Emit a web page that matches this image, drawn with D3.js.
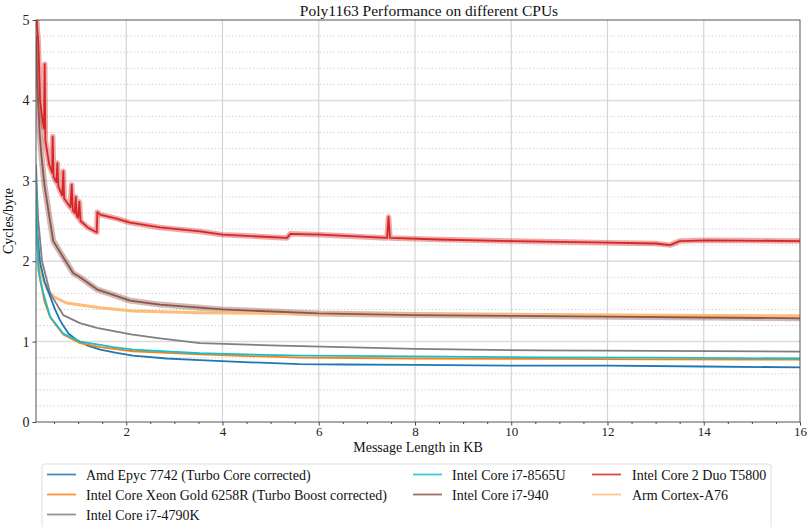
<!DOCTYPE html>
<html>
<head>
<meta charset="utf-8">
<script src="https://cdn.jsdelivr.net/npm/d3@7"></script>
<style>
  body { margin: 0; background: #fff; }
  svg text { font-family: "Liberation Serif", "Times New Roman", Times, "DejaVu Serif", serif !important; }
</style>
</head>
<body>
<script>
// values: [message length in KB, cycles/byte]
const amd = [[0.125, 2.6], [0.16, 2.3], [0.21, 1.98], [0.3, 1.75], [0.42, 1.56], [0.52, 1.4], [0.62, 1.27],
  [0.69, 1.2], [0.8, 1.1], [0.97, 1.02], [1.2, 0.95], [1.46, 0.9], [1.8, 0.86], [2.14, 0.825], [2.84, 0.79],
  [3.53, 0.77], [4.22, 0.75], [5.6, 0.72], [6.5, 0.715], [8, 0.71], [10, 0.7], [12, 0.7], [14, 0.69], [16, 0.68]];
const xeon = [[0.125, 2.7], [0.15, 2.2], [0.2, 1.8], [0.3, 1.5], [0.42, 1.3], [0.69, 1.09], [1.04, 0.98],
  [1.46, 0.93], [2.14, 0.88], [2.84, 0.86], [3.53, 0.84], [5.6, 0.8], [8, 0.79], [10.6, 0.785], [13, 0.78], [16, 0.775]];
const i4790 = [[0.125, 3.2], [0.15, 2.8], [0.17, 2.52], [0.25, 2.0], [0.42, 1.6], [0.69, 1.33], [1.04, 1.23],
  [1.39, 1.17], [2.1, 1.09], [2.7, 1.04], [3.53, 0.98], [5.2, 0.95], [8, 0.91], [10.6, 0.89], [13, 0.885], [16, 0.875]];
const i8565 = [[0.125, 3.05], [0.14, 2.5], [0.173, 1.89], [0.277, 1.6], [0.42, 1.31], [0.69, 1.1], [1.04, 1.0],
  [1.46, 0.96], [1.73, 0.93], [2.14, 0.9], [3.53, 0.855], [5.6, 0.825], [8, 0.815], [10.6, 0.805], [13, 0.8], [16, 0.79]];
const i940 = [[0.125, 4.8], [0.15, 4.2], [0.2, 3.6], [0.24, 3.3], [0.3, 2.95], [0.416, 2.5], [0.485, 2.25],
  [0.69, 2.05], [0.9, 1.85], [1.04, 1.8], [1.39, 1.65], [2.08, 1.51], [2.7, 1.46], [4.0, 1.4], [6, 1.35],
  [8, 1.33], [10, 1.32], [12, 1.31], [14, 1.3], [16, 1.29]];
const t5800 = [[0.125, 5.2], [0.15, 4.9], [0.17, 4.75], [0.19, 4.4], [0.21, 4.0], [0.26, 3.75], [0.29, 3.65],
  [0.306, 4.45], [0.32, 3.5], [0.4, 3.2], [0.46, 3.1], [0.472, 3.55], [0.49, 3.05], [0.55, 2.98], [0.568, 3.22],
  [0.59, 2.93], [0.67, 2.82], [0.693, 3.12], [0.71, 2.78], [0.84, 2.67], [0.867, 2.95], [0.89, 2.63],
  [0.93, 2.6], [0.95, 2.8], [0.97, 2.57], [1.0, 2.54], [1.025, 2.74], [1.05, 2.5], [1.2, 2.42], [1.35, 2.37],
  [1.387, 2.36], [1.4, 2.61], [1.455, 2.58], [1.8, 2.53], [2.08, 2.48], [2.7, 2.42], [3.53, 2.37], [4.0, 2.33],
  [5.34, 2.29], [5.41, 2.34], [6.03, 2.33], [7.42, 2.29], [7.45, 2.55], [7.48, 2.29], [8.5, 2.27], [10.04, 2.25],
  [12, 2.23], [13.0, 2.22], [13.3, 2.2], [13.5, 2.25], [14.07, 2.26], [16, 2.25]];
const a76 = [[0.125, 2.85], [0.14, 2.5], [0.155, 2.27], [0.2, 1.95], [0.277, 1.77], [0.36, 1.65], [0.485, 1.56],
  [0.76, 1.48], [1.455, 1.42], [2.14, 1.38], [3.53, 1.36], [5.6, 1.345], [8, 1.335], [12, 1.33], [16, 1.32]];

const seriesNames = ["Amd Epyc 7742 (Turbo Core corrected)", "Intel Core Xeon Gold 6258R (Turbo Boost corrected)",
  "Intel Core i7-4790K", "Intel Core i7-8565U", "Intel Core i7-940", "Intel Core 2 Duo T5800", "Arm Cortex-A76"];
const seriesData = [amd, xeon, i4790, i8565, i940, t5800, a76];
const colors = ["#1f77b4", "#ff7f0e", "#7f7f7f", "#17becf", "#8c564b", "#d62728", "#ffbb78"];
const xTicks = [2, 4, 6, 8, 10, 12, 14, 16];
const yTicks = [0, 1, 2, 3, 4, 5];

const W = 810, H = 527;
const margin = {top: 20, right: 10, bottom: 105, left: 36},
    width = W - margin.left - margin.right,
    height = H - margin.top - margin.bottom;

const svg = d3.select("body").append("svg")
    .attr("width", W).attr("height", H);

svg.append("defs").append("clipPath").attr("id", "clip")
    .append("rect").attr("width", width).attr("height", height);

const g = svg.append("g")
    .attr("transform", "translate(" + margin.left + "," + margin.top + ")");

const x = d3.scaleLinear().domain([0.125, 16]).range([0, width]);
const y = d3.scaleLinear().domain([0, 5]).range([height, 0]);

// minor horizontal grid (dotted)
g.append("g").selectAll("line")
    .data(d3.range(0, 5.01, 0.2).filter(v => Math.abs(v - Math.round(v)) > 0.01))
    .enter().append("line")
    .attr("x1", 0).attr("x2", width)
    .attr("y1", d => y(d)).attr("y2", d => y(d))
    .attr("stroke", "#c8c8c8").attr("stroke-width", 0.8)
    .attr("stroke-dasharray", "1.5,2");

// major grid
g.append("g").selectAll("line").data(yTicks.slice(1, -1)).enter().append("line")
    .attr("x1", 0).attr("x2", width)
    .attr("y1", d => y(d)).attr("y2", d => y(d))
    .attr("stroke", "#dcdcdc").attr("stroke-width", 1.5);
g.append("g").selectAll("line").data(xTicks.slice(0, -1)).enter().append("line")
    .attr("y1", 0).attr("y2", height)
    .attr("x1", d => x(d)).attr("x2", d => x(d))
    .attr("stroke", "#d4d4d4").attr("stroke-width", 1.2);

const line = d3.line().x(d => x(d[0])).y(d => y(d[1]));

const plot = g.append("g").attr("clip-path", "url(#clip)");

// noisy series get a translucent band under the line
[[4, 6], [5, 5.5]].forEach(([i, w]) => {
  plot.append("path").datum(seriesData[i])
      .attr("d", line).attr("fill", "none")
      .attr("stroke", colors[i]).attr("stroke-opacity", 0.4)
      .attr("stroke-width", w).attr("stroke-linejoin", "round");
});

const order = [6, 4, 2, 0, 1, 3, 5];
order.forEach(i => {
  plot.append("path").datum(seriesData[i])
      .attr("d", line).attr("fill", "none")
      .attr("stroke", colors[i])
      .attr("stroke-width", i === 6 ? 3 : 1.8)
      .attr("stroke-linejoin", "round");
});

// axes
g.append("g").attr("class", "xaxis").attr("transform", "translate(0," + height + ")")
    .call(d3.axisBottom(x).tickValues(xTicks).tickSize(3.5).tickPadding(1.5).tickFormat(d3.format("d")));
g.append("g").attr("transform", "translate(0," + height + ")")
    .call(d3.axisBottom(x).tickValues(d3.range(0.5, 16, 0.5).filter(v => v % 2 !== 0)).tickSize(2).tickFormat(""));
g.append("g")
    .call(d3.axisLeft(y).tickValues(yTicks).tickSize(3.5).tickPadding(3).tickFormat(d3.format("d")));

svg.selectAll(".tick text").attr("font-size", 14).attr("fill", "#222");
svg.selectAll(".xaxis .tick text").attr("font-size", 13);
svg.selectAll(".tick line").attr("stroke", "#444");
svg.selectAll(".domain").remove();

// frame
g.append("rect").attr("width", width).attr("height", height)
    .attr("fill", "none").attr("stroke", "#555").attr("stroke-width", 1);

// title and axis labels
svg.append("text").attr("x", 429).attr("y", 16).attr("text-anchor", "middle")
    .attr("font-size", 15.5).attr("fill", "#111").text("Poly1163 Performance on different CPUs");
svg.append("text").attr("x", 418).attr("y", 452).attr("text-anchor", "middle")
    .attr("font-size", 14).attr("fill", "#111").text("Message Length in KB");
svg.append("text").attr("transform", "translate(13," + (margin.top + height / 2) + ") rotate(-90)")
    .attr("text-anchor", "middle").attr("font-size", 14).attr("fill", "#111").text("Cycles/byte");

// legend
const legend = svg.append("g");
legend.append("rect").attr("x", 42).attr("y", 464).attr("width", 729).attr("height", 80)
    .attr("rx", 3).attr("fill", "#fff").attr("stroke", "#ddd");
const legX = [[47, 86], [413, 452], [592, 632]];
const legPos = [[0, 0], [0, 1], [0, 2], [1, 0], [1, 1], [2, 0], [2, 1]];
seriesNames.forEach((name, i) => {
  const [c, r] = legPos[i];
  const ly = 474.5 + r * 20;
  legend.append("line").attr("x1", legX[c][0]).attr("x2", legX[c][0] + 29)
      .attr("y1", ly).attr("y2", ly)
      .attr("stroke", colors[i]).attr("stroke-opacity", 0.85).attr("stroke-width", 1.8);
  legend.append("text").attr("x", legX[c][1]).attr("y", ly + 5)
      .attr("font-size", 14).attr("fill", "#111").text(name);
});
</script>
</body>
</html>
